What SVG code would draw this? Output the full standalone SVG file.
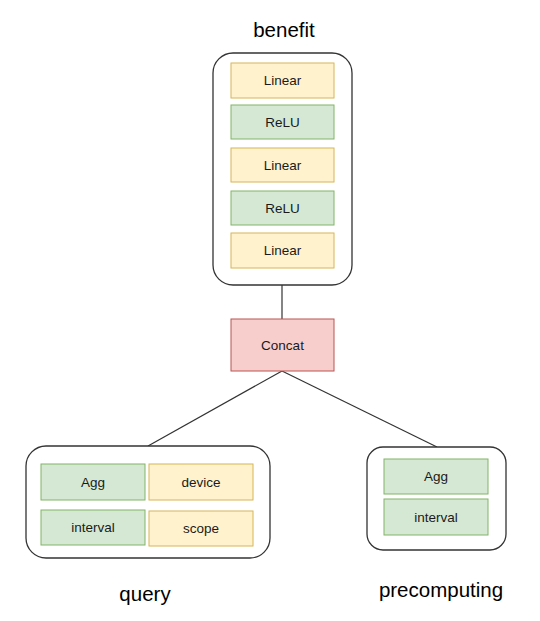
<svg xmlns="http://www.w3.org/2000/svg" width="540" height="621" viewBox="0 0 540 621">
<style>
.cont{fill:#fff;stroke:#333;stroke-width:1.3}
.y{fill:#fff2cc;stroke:#d6b656;stroke-width:1}
.g{fill:#d5e8d4;stroke:#82b366;stroke-width:1}
.r{fill:#f8cecc;stroke:#b85450;stroke-width:1}
.t{font-family:"Liberation Sans",Arial,sans-serif;font-size:13.5px;fill:#1a1a1a;text-anchor:middle;dominant-baseline:central}
.big{font-family:"Liberation Sans",Arial,sans-serif;font-size:20.5px;fill:#000;text-anchor:middle}
.edge{stroke:#333;stroke-width:1.2;fill:none}
</style>
<rect width="540" height="621" fill="#fff"/>
<g id="connectors">
<line class="edge" x1="282" y1="285" x2="282" y2="319"/>
<line class="edge" x1="282" y1="371" x2="148" y2="446"/>
<line class="edge" x1="282" y1="371" x2="437" y2="447"/>
</g>
<g id="benefit">
<text class="big" x="284" y="37">benefit</text>
<rect class="cont" x="213" y="53" width="139" height="232" rx="20"/>
<rect class="y" x="231" y="63" width="103" height="35"/><text class="t" x="282.5" y="80.5">Linear</text>
<rect class="g" x="231" y="105" width="103" height="34"/><text class="t" x="282.5" y="122">ReLU</text>
<rect class="y" x="231" y="148" width="103" height="34"/><text class="t" x="282.5" y="165">Linear</text>
<rect class="g" x="231" y="191" width="103" height="34"/><text class="t" x="282.5" y="208">ReLU</text>
<rect class="y" x="231" y="233" width="103" height="35"/><text class="t" x="282.5" y="250.5">Linear</text>
</g>
<g id="concat">
<rect class="r" x="231" y="319" width="103" height="52"/><text class="t" x="282.5" y="345">Concat</text>
</g>
<g id="query">
<rect class="cont" x="26" y="446" width="244" height="112" rx="20"/>
<rect class="g" x="41" y="464" width="104" height="36"/><text class="t" x="93" y="482">Agg</text>
<rect class="y" x="149" y="464" width="104" height="36"/><text class="t" x="201" y="482">device</text>
<rect class="g" x="41" y="510" width="104" height="35"/><text class="t" x="93" y="527">interval</text>
<rect class="y" x="149" y="511" width="104" height="35"/><text class="t" x="201" y="528.5">scope</text>
<text class="big" x="145" y="601">query</text>
</g>
<g id="precomputing">
<rect class="cont" x="367" y="447" width="139" height="103" rx="16"/>
<rect class="g" x="384" y="459" width="104" height="35"/><text class="t" x="436" y="476.5">Agg</text>
<rect class="g" x="384" y="499" width="104" height="36"/><text class="t" x="436" y="517">interval</text>
<text class="big" x="441" y="597">precomputing</text>
</g>
</svg>
